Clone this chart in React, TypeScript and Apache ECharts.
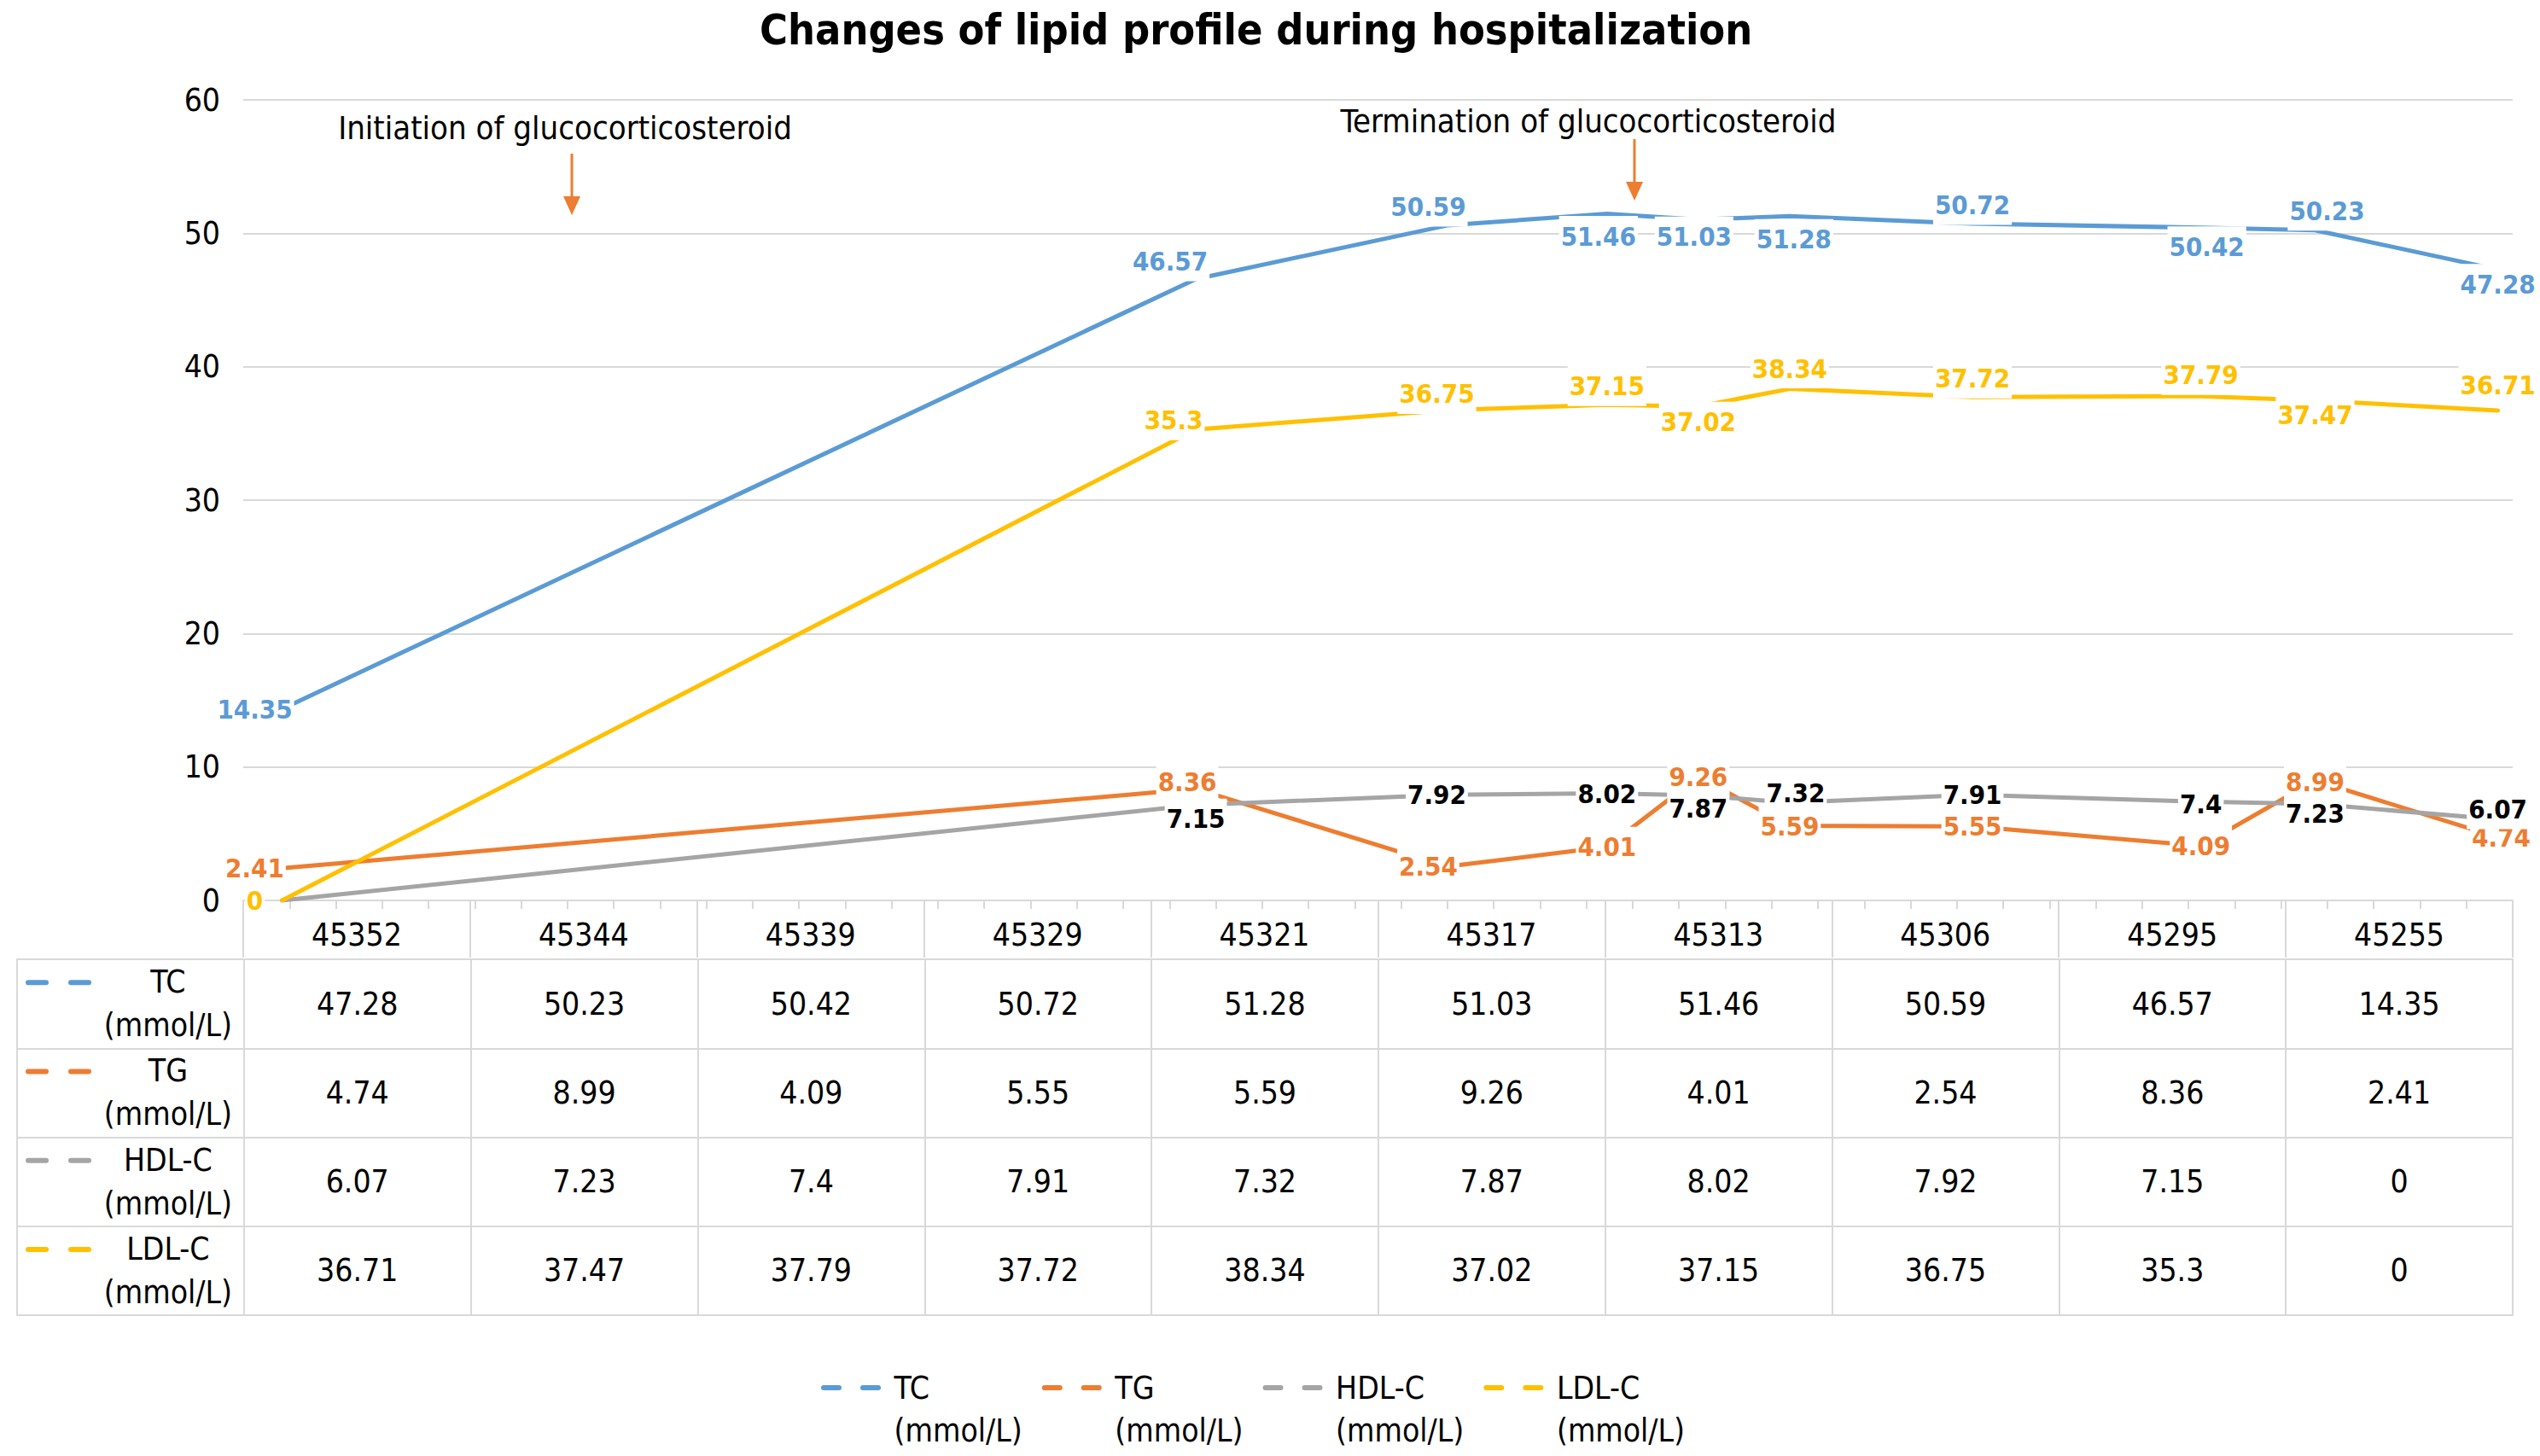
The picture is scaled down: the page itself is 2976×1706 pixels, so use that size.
import React, { useEffect, useRef } from 'react';
import * as echarts from 'echarts';

// ---------- data ----------
const dates = [45255, 45295, 45306, 45313, 45317, 45321, 45329, 45339, 45344, 45352];
const tableDates = [45352, 45344, 45339, 45329, 45321, 45317, 45313, 45306, 45295, 45255];
const seriesNames = ['TC (mmol/L)', 'TG (mmol/L)', 'HDL-C (mmol/L)', 'LDL-C (mmol/L)'];
const tcValues = [14.35, 46.57, 50.59, 51.46, 51.03, 51.28, 50.72, 50.42, 50.23, 47.28];
const tgValues = [2.41, 8.36, 2.54, 4.01, 9.26, 5.59, 5.55, 4.09, 8.99, 4.74];
const hdlValues = [0, 7.15, 7.92, 8.02, 7.87, 7.32, 7.91, 7.4, 7.23, 6.07];
const ldlValues = [0, 35.3, 36.75, 37.15, 37.02, 38.34, 37.72, 37.79, 37.47, 36.71];
const annotationTexts = ['Initiation of glucocorticosteroid', 'Termination of glucocorticosteroid'];
const titleText = 'Changes of lipid profile during hospitalization';

// ---------- styles ----------
const FONT = "'DejaVu Sans Condensed', 'DejaVu Sans', sans-serif";
const colors = ['#5B9BD5', '#ED7D31', '#A5A5A5', '#FFC000'];
const labelColors = ['#5B9BD5', '#ED7D31', '#000000', '#FFC000'];
const labelOffsets = [
  [[-32, 0], [-30, -21], [-22, -22], [-10, 26], [-5, 20], [5, 27], [0, -22], [7, 22], [14, -23], [0, 17]],
  [[-32, 0], [-10, -8], [-22, 0], [0, 0], [0, 0], [0, 0], [0, 0], [0, 0], [0, 2], [4, 0]],
  [[0, 0], [0, 16], [-12, 0], [0, 0], [0, 15], [7, -12], [0, 0], [0, 3], [0, 11], [0, -12]],
  [[-32, 0], [-26, -11], [-12, -19], [0, -22], [0, 18], [0, -24], [0, -22], [0, -25], [0, 17], [0, -30]],
];
const hiddenLabels = [[], [], [0], []];

const allValues = [tcValues, tgValues, hdlValues, ldlValues];

export default function App() {
  const ref = useRef<HTMLDivElement>(null);
  useEffect(() => {
    if (!ref.current) return;
    const chart = echarts.init(ref.current, undefined, { renderer: 'svg' });

    const lineSeries = allValues.map((vals, si) => ({
      name: seriesNames[si],
      type: 'line',
      xAxisIndex: 0,
      yAxisIndex: 0,
      symbol: 'circle',
      symbolSize: 1,
      itemStyle: { color: colors[si] },
      lineStyle: { color: colors[si], width: 5, cap: 'round', join: 'round' },
      label: {
        show: true,
        position: 'inside',
        color: labelColors[si],
        fontFamily: FONT,
        fontWeight: 'bold',
        fontSize: 31,
        backgroundColor: '#ffffff',
        padding: [8, 2],
        formatter: (p: any) => String(p.value[1]),
      },
      emphasis: { disabled: true },
      z: 2,
      data: vals.map((v, i) => ({
        value: [dates[i], v],
        label: hiddenLabels[si].includes(i)
          ? { show: false }
          : { offset: labelOffsets[si][i] },
      })),
    }));

    // table cells
    type Cell = { col: number; row: number; text: string; header: boolean };
    const cells: Cell[] = [];
    seriesNames.forEach((name, r) => {
      cells.push({ col: 0, row: r, text: name.replace(' ', '\n'), header: true });
      tableDates.forEach((d, c) => {
        const idx = dates.indexOf(d);
        cells.push({ col: c + 1, row: r, text: String(allValues[r][idx]), header: false });
      });
    });

    const tableSeries = {
      type: 'custom',
      xAxisIndex: 3,
      yAxisIndex: 1,
      silent: true,
      data: cells.map((c) => [c.col, c.row]),
      renderItem: (params: any, api: any) => {
        const cell = cells[params.dataIndex];
        const pt = api.coord([api.value(0), api.value(1)]);
        const sz = api.size([1, 1]);
        if (cell.header) {
          const left = pt[0] - sz[0] / 2;
          const ly = pt[1] - 25;
          const col = colors[cell.row];
          return {
            type: 'group',
            children: [
              { type: 'rect', shape: { x: left + 10, y: ly - 3, width: 27, height: 6, r: 3 }, style: { fill: col } },
              { type: 'rect', shape: { x: left + 60, y: ly - 3, width: 27, height: 6, r: 3 }, style: { fill: col } },
              {
                type: 'text',
                style: {
                  text: cell.text,
                  x: pt[0] + 44,
                  y: pt[1],
                  align: 'center',
                  verticalAlign: 'middle',
                  fontSize: 37,
                  fontFamily: FONT,
                  lineHeight: 51,
                  fill: '#000',
                },
              },
            ],
          };
        }
        return {
          type: 'text',
          style: {
            text: cell.text,
            x: pt[0],
            y: pt[1],
            align: 'center',
            verticalAlign: 'middle',
            fontSize: 37,
            fontFamily: FONT,
            fill: '#000',
          },
        };
      },
    };

    const arrow = (x: number, y1: number, y2: number) => [
      { type: 'line', shape: { x1: x, y1, x2: x, y2: y2 - 18 }, style: { stroke: '#ED7D31', lineWidth: 3 } },
      {
        type: 'polygon',
        shape: { points: [[x - 10, y2 - 22], [x + 10, y2 - 22], [x, y2]] },
        style: { fill: '#ED7D31' },
      },
    ];

    const option: any = {
      animation: false,
      backgroundColor: '#ffffff',
      title: {
        text: titleText,
        left: 890,
        top: 10,
        padding: 0,
        textStyle: { fontSize: 50, fontWeight: 'bold', fontFamily: FONT, color: '#000' },
      },
      legend: {
        data: seriesNames,
        left: 957,
        top: 1546,
        selectedMode: false,
        itemWidth: 70,
        itemHeight: 6,
        itemGap: 23,
        icon: 'path://M3,0H21A3,3,0,0,1,21,6H3A3,3,0,0,1,3,0Z M49,0H67A3,3,0,0,1,67,6H49A3,3,0,0,1,49,0Z',
        itemStyle: { borderWidth: 0 },
        formatter: (n: string) => ' \n ' + n.replace(' ', '\n '),
        textStyle: { fontSize: 37, fontFamily: FONT, color: '#000', lineHeight: 50 },
      },
      grid: [
        { left: 285, right: 32, top: 117, height: 938 },
        { left: 20, right: 32, top: 1124, height: 417, show: true, borderColor: '#D9D9D9', borderWidth: 2 },
      ],
      xAxis: [
        { type: 'value', gridIndex: 0, position: 'bottom', min: 45253.3, max: 45352.65, show: false },
        {
          type: 'category',
          gridIndex: 0,
          position: 'bottom',
          data: tableDates.map(String),
          boundaryGap: true,
          axisLine: { show: true, lineStyle: { color: '#D9D9D9', width: 2 } },
          axisTick: { show: true, interval: 0, length: 67, lineStyle: { color: '#D9D9D9', width: 2 } },
          axisLabel: { interval: 0, fontSize: 37, fontFamily: FONT, color: '#000', margin: 22 },
          splitLine: { show: false },
        },
        {
          type: 'value',
          gridIndex: 0,
          position: 'bottom',
          min: 0,
          max: 49,
          interval: 1,
          axisLine: { show: false },
          axisTick: { show: true, length: 10, lineStyle: { color: '#D9D9D9', width: 2 } },
          axisLabel: { show: false },
          splitLine: { show: false },
        },
        {
          type: 'category',
          gridIndex: 1,
          position: 'bottom',
          data: [''].concat(tableDates.map(String)),
          boundaryGap: true,
          axisLine: { show: false },
          axisTick: { show: false },
          axisLabel: { show: false },
          splitLine: { show: true, interval: 0, lineStyle: { color: '#D9D9D9', width: 2 } },
        },
      ],
      yAxis: [
        {
          type: 'value',
          gridIndex: 0,
          min: 0,
          max: 60,
          interval: 10,
          axisLine: { show: false },
          axisTick: { show: false },
          axisLabel: { fontSize: 37, fontFamily: FONT, color: '#000', margin: 27 },
          splitLine: { lineStyle: { color: '#D9D9D9', width: 2 } },
        },
        {
          type: 'category',
          gridIndex: 1,
          inverse: true,
          data: seriesNames,
          axisLine: { show: false },
          axisTick: { show: false },
          axisLabel: { show: false },
          splitLine: { show: true, interval: 0, lineStyle: { color: '#D9D9D9', width: 2 } },
        },
      ],
      graphic: [
        {
          type: 'text',
          style: { text: annotationTexts[0], x: 662, y: 150, align: 'center', verticalAlign: 'middle', fontSize: 38, fontFamily: FONT, fill: '#000' },
        },
        {
          type: 'text',
          style: { text: annotationTexts[1], x: 1861, y: 142, align: 'center', verticalAlign: 'middle', fontSize: 38, fontFamily: FONT, fill: '#000' },
        },
        ...arrow(670, 180, 252),
        ...arrow(1915, 163, 235),
      ],
      series: [...lineSeries, tableSeries],
    };

    chart.setOption(option);
    return () => chart.dispose();
  }, []);

  return (
    <div
      ref={ref}
      style={{ position: 'fixed', left: 0, top: 0, width: '100vw', height: '100vh', background: '#fff' }}
    />
  );
}
